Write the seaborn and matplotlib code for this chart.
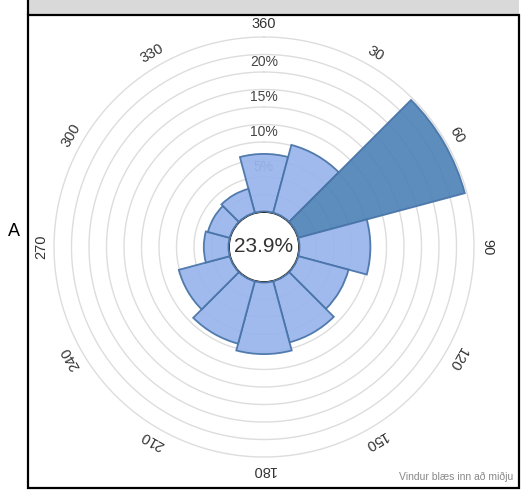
import numpy as np
import matplotlib
matplotlib.use("Agg")
import matplotlib.pyplot as plt
import matplotlib.patches as mpatches
import seaborn as sns

# Wind direction sectors (degrees) and share of time (%)
directions = [0, 30, 60, 90, 120, 150, 180, 210, 240, 270, 300, 330]
direction_labels = ["360", "30", "60", "90", "120", "150", "180", "210", "240", "270", "300", "330"]
frequency = [8.3, 10.1, 24.7, 10.2, 7.5, 9.1, 10.3, 9.3, 7.6, 3.6, 3.3, 3.6]
calm = 23.9
ring_values = [2.5, 5, 7.5, 10, 12.5, 15, 17.5, 20, 22.5, 25]
ring_labels = ["5%", "10%", "15%", "20%"]
ring_label_values = [5, 10, 15, 20]

sns.set_theme(style="white")
plt.rcParams['font.family'] = ['Liberation Sans', 'DejaVu Sans']

light = "#9ab5ec"
dark = "#4f84b8"
edge = "#4874a8"

fig = plt.figure(figsize=(5.23, 4.96), dpi=100)

# grey header and frame
hdr = mpatches.Rectangle((28 / 523, 1 - 15 / 496), (519 - 28) / 523, 15 / 496,
                         transform=fig.transFigure, facecolor="#d9d9d9", edgecolor="none")
fig.patches.append(hdr)
box = mpatches.Rectangle((28 / 523, 1 - 488 / 496), (519 - 28) / 523, (488 - 15) / 496,
                         transform=fig.transFigure, facecolor="none", edgecolor="black", lw=1.6)
fig.patches.append(box)
fig.add_artist(plt.Line2D([28 / 523, 28 / 523], [1 - 15 / 496, 1], color="black", lw=1.6))

# polar axes: centre at (264, 247) px, radius 230 px
R = 230
ax = fig.add_axes([(264 - R) / 523, (496 - 247 - R) / 496, 2 * R / 523, 2 * R / 496],
                  projection="polar")
ax.set_theta_zero_location("N")
ax.set_theta_direction(-1)
ax.set_rorigin(-5)
ax.set_ylim(0, 27.857)
ax.patch.set_alpha(0)
ax.spines["polar"].set_visible(False)
ax.set_xticks([])
ax.set_yticks([])
ax.grid(False)

theta_full = np.linspace(0, 2 * np.pi, 400)
for rv in ring_values:
    ax.plot(theta_full, np.full_like(theta_full, rv), color="#dddddd", lw=1, zorder=1)

for lab, rv in zip(ring_labels, ring_label_values):
    ax.text(0, rv + 1.4, lab, ha="center", va="center", fontsize=10, color="#444444", zorder=1)

theta = np.deg2rad(directions)
colors = [dark if f == max(frequency) else light for f in frequency]
ax.bar(theta, frequency, width=np.deg2rad(30), bottom=0, color=colors,
       edgecolor=edge, linewidth=1.3, alpha=0.93, zorder=3)

for lab, d in zip(direction_labels, directions):
    ax.text(np.deg2rad(d), 26.86, lab, ha="center", va="center", rotation=-d,
            rotation_mode="anchor", fontsize=10.5, color="#333333")

calm_circle = mpatches.Circle((0.5, 0.5), 35 / (2 * R), transform=ax.transAxes,
                              facecolor="white", edgecolor=edge, lw=2, zorder=4)
ax.add_patch(calm_circle)
ax.text(0.5, 0.5, f"{calm}%", transform=ax.transAxes, ha="center", va="center",
        fontsize=15, color="#333333", zorder=5)

fig.text(8 / 523, 1 - 232 / 496, "A", ha="left", va="center", fontsize=13, color="black")
fig.text(513 / 523, 1 - 477 / 496, "Vindur blæs inn að miðju", ha="right", va="center",
         fontsize=7.5, color="#888888")

fig.savefig("out.png", dpi=100)
